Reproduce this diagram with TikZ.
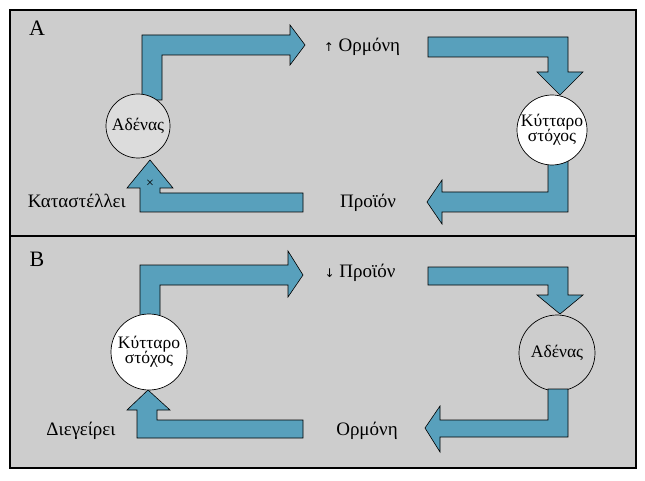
\documentclass[tikz,border=0pt]{standalone}
\usepackage{fontspec}
\setmainfont{Liberation Serif}
\newfontfamily\symfont{DejaVu Sans}
\definecolor{bg}{HTML}{CDCDCD}
\definecolor{teal}{HTML}{58A0BC}
\begin{document}
\begin{tikzpicture}[x=1pt,y=-1pt,
  arr/.style={fill=teal,draw=black,line width=0.6pt,line join=miter},
  lbl/.style={font=\fontsize{19}{21}\selectfont,inner sep=0pt},
  circ/.style={circle,draw=black,line width=0.7pt,inner sep=0pt,align=center,font=\fontsize{17.5}{17}\selectfont}]
\useasboundingbox (0,0) rectangle (645,481);
\fill[white] (0,0) rectangle (645,481);
\draw[fill=bg,line width=1.2pt] (10,10) rectangle (636,468);
\draw[line width=2pt] (10,236) -- (636,236);
\node[font=\fontsize{22}{24}\selectfont] (la) at (37,28) {A};
\node[font=\fontsize{22}{24}\selectfont] (lb) at (37,259) {B};
% Panel A
\draw[arr] (142,100) -- (142,35) -- (290,35) -- (290,25) -- (305,45) -- (290,65) -- (290,55) -- (162,55) -- (162,100) -- cycle;
\draw[arr] (303,193) -- (160,193) -- (160,188) -- (173,188) -- (150,160) -- (127,188) -- (140,188) -- (140,212) -- (303,212) -- cycle;
\draw[arr] (428,37) -- (568,37) -- (568,72) -- (583,72) -- (560,95) -- (537,72) -- (548,72) -- (548,57) -- (428,57) -- cycle;
\draw[arr] (548,150) -- (568,150) -- (568,212) -- (442,212) -- (442,224) -- (427,202) -- (442,180) -- (442,192) -- (548,192) -- cycle;
\node[circ,fill=bg!70!white,minimum size=64pt] (adA) at (138,126) {Αδένας};
\node[circ,fill=white,minimum size=70pt] (kyA) at (552,130) {Κύτταρο\\[-2pt]στόχος};
\node[font=\fontsize{14}{14}\selectfont] (xA) at (150,184) {×};
\node[lbl] (orA) at (362,47) {{\symfont\fontsize{12}{12}\selectfont ↑}\ Ορμόνη};
\node[lbl] (prA) at (368,203) {Προϊόν};
\node[lbl,anchor=east] (kaA) at (126,201) {Καταστέλλει};
% Panel B
\draw[arr] (140,330) -- (140,265) -- (288,265) -- (288,251) -- (303,275) -- (288,297) -- (288,285) -- (160,285) -- (160,330) -- cycle;
\draw[arr] (303,420) -- (157,420) -- (157,410) -- (170,410) -- (148,390) -- (127,410) -- (137,410) -- (137,438) -- (303,438) -- cycle;
\draw[arr] (428,267) -- (568,267) -- (568,295) -- (583,295) -- (560,314) -- (537,295) -- (548,295) -- (548,285) -- (428,285) -- cycle;
\node[circ,fill=white,minimum size=76pt] (kyB) at (149,352) {Κύτταρο\\[-2pt]στόχος};
\node[circ,fill=bg,minimum size=76pt] (adB) at (557,353) {Αδένας};
\draw[arr] (548,389) -- (568,389) -- (568,437) -- (440,437) -- (440,452) -- (425,428) -- (440,406) -- (440,420) -- (548,420) -- cycle;
\node[lbl] (prB) at (360,273) {{\symfont\fontsize{12}{12}\selectfont ↓}\ Προϊόν};
\node[lbl] (orB) at (367,431) {Ορμόνη};
\node[lbl] (diB) at (81,431) {Διεγείρει};
\end{tikzpicture}
\end{document}
